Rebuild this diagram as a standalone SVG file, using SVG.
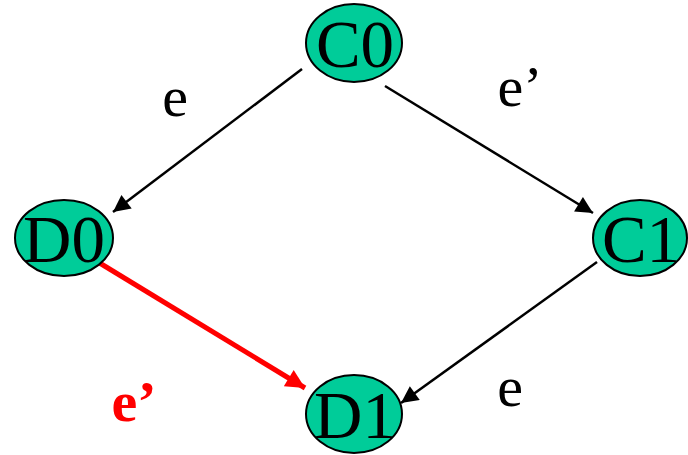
<svg xmlns="http://www.w3.org/2000/svg" width="688" height="455" viewBox="0 0 688 455">
<style>
.node ellipse{fill:#00cc99;stroke:#000;stroke-width:2}
.node text{font-family:"Liberation Serif","Times New Roman",serif;font-size:67px;fill:#000;text-anchor:middle}
.lbl{font-family:"Liberation Serif","Times New Roman",serif;font-size:58px;fill:#000;text-anchor:middle}
.red{fill:#ff0000;font-weight:bold}
.edge{stroke:#000;stroke-width:2.5;fill:none}
.edge.r{stroke:#ff0000;stroke-width:5}
</style>
<defs>
<marker id="ah" viewBox="0 0 10 10" refX="10" refY="5" markerUnits="userSpaceOnUse" markerWidth="24" markerHeight="17" orient="auto"><path d="M0,0L10,5L0,10z" fill="#000"/></marker>
<marker id="ahr" viewBox="0 0 10 10" refX="10" refY="5" markerUnits="userSpaceOnUse" markerWidth="25" markerHeight="19" orient="auto"><path d="M0,0L10,5L0,10z" fill="#ff0000"/></marker>
</defs>
<g id="connectors">
<line class="edge" x1="302" y1="69" x2="113" y2="212" marker-end="url(#ah)"/>
<line class="edge" x1="385" y1="86" x2="593" y2="213" marker-end="url(#ah)"/>
<line class="edge" x1="597" y1="262" x2="401" y2="403" marker-end="url(#ah)"/>
<line class="edge r" x1="98" y1="262" x2="305" y2="388" marker-end="url(#ahr)"/>
</g>
<g id="C0" class="node"><ellipse cx="354" cy="43" rx="48" ry="39"/><text x="355" y="67">C0</text></g>
<g id="D0" class="node"><ellipse cx="64" cy="238" rx="49" ry="38"/><text x="64" y="262">D0</text></g>
<g id="C1" class="node"><ellipse cx="640" cy="238" rx="47" ry="38"/><text x="641" y="262">C1</text></g>
<g id="D1" class="node"><ellipse cx="354" cy="414" rx="48" ry="39"/><text x="355" y="438">D1</text></g>
<g id="labels">
<text class="lbl" x="175" y="116">e</text>
<text class="lbl" x="520" y="106">e’</text>
<text class="lbl" x="510" y="406">e</text>
<text class="lbl red" x="134" y="421">e’</text>
</g>
</svg>
